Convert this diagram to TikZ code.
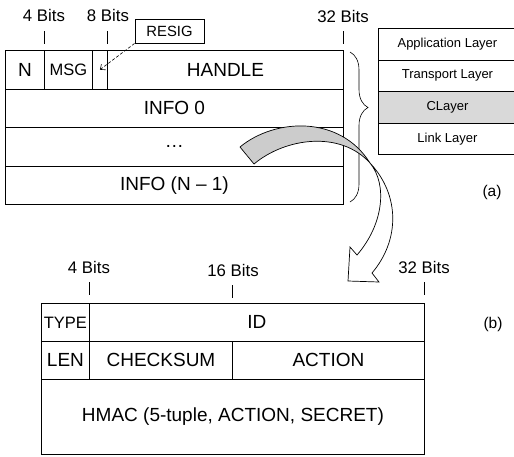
\documentclass[tikz,border=0pt]{standalone}
\usepackage{fontspec}
\setmainfont{Liberation Sans}
\usetikzlibrary{decorations.pathreplacing, arrows.meta}
\tikzset{
  field/.style={draw, anchor=north west, inner sep=0pt, font=\fontsize{19}{22}\selectfont},
  narrow/.style={font=\fontsize{16.5}{19}\selectfont},
  layer/.style={draw, anchor=north west, inner sep=0pt, minimum width=138pt,
    minimum height=31.5pt, font=\fontsize{13}{15}\selectfont},
  bits/.style={font=\fontsize{16.8}{20}\selectfont},
  tag/.style={font=\fontsize{15.5}{18}\selectfont}
}
\begin{document}
\begin{tikzpicture}[x=1pt, y=-1pt, line width=0.9pt]
\useasboundingbox (0,0) rectangle (514,456);

% packet (a)
\node[field, minimum width=39pt, minimum height=38.5pt] (n) at (5,50) {N};
\node[field, narrow, minimum width=48pt, minimum height=38.5pt] (msg) at (44,50) {MSG};
\node[field, minimum width=15pt, minimum height=38.5pt] (rs) at (92,50) {};
\node[field, minimum width=236pt, minimum height=38.5pt] (handle) at (107,50) {HANDLE};
\node[field, minimum width=338pt, minimum height=38.5pt] (info0) at (5,88.5) {INFO 0};
\node[field, minimum width=338pt, minimum height=38.5pt] (dots) at (5,127) {…};
\node[field, minimum width=338pt, minimum height=38.5pt] (infon) at (5,165.5) {INFO (N -- 1)};

\node[bits] (bitsa4) at (44,15) {4 Bits};
\node[bits] (bitsa8) at (108,15) {8 Bits};
\node[bits] (bitsa32) at (343,16) {32 Bits};

\node[draw, inner sep=0pt, minimum width=69pt, minimum height=24pt,
  font=\fontsize{14.8}{17}\selectfont] (resig) at (169.5,31) {RESIG};
\draw[-{Straight Barb[length=4pt, width=7pt]}, dash pattern=on 3pt off 2pt, line width=0.6pt]
  (resig.south west) -- (rs.center);

% protocol stack
\node[layer] (app) at (378,28) {Application Layer};
\node[layer] (trans) at (378,59.5) {Transport Layer};
\node[layer, fill=black!15] (clayer) at (378,91) {CLayer};
\node[layer] (link) at (378,122.5) {Link Layer};

\draw[line width=0.6pt, decorate, decoration={brace, amplitude=18pt, aspect=0.37}] (350,52) -- (350,202);

\node[tag] (taga) at (492,192) {(a)};

% packet (b)
\node[field, narrow, minimum width=48pt, minimum height=38pt] (type) at (41,303) {TYPE};
\node[field, minimum width=335pt, minimum height=38pt] (id) at (89,303) {ID};
\node[field, minimum width=48pt, minimum height=38pt] (len) at (41,341) {LEN};
\node[field, minimum width=143pt, minimum height=38pt] (checksum) at (89,341) {CHECKSUM};
\node[field, minimum width=192pt, minimum height=38pt] (action) at (232,341) {ACTION};
\node[field, minimum width=383pt, minimum height=75pt] (hmac) at (41,379) {HMAC (5-tuple, ACTION, SECRET)};

\node[bits] (bitsb4) at (89,267) {4 Bits};
\node[bits] (bitsb16) at (233,270) {16 Bits};
\node[bits] (bitsb32) at (424,267) {32 Bits};

\node[tag] (tagb) at (493,324) {(b)};

% bit marks
\foreach \x/\y in {44/31, 107/31, 343/31, 89/282, 232/285, 424/282}
\draw (\x,\y) -- ++(0,13);

% curved arrow
\filldraw[fill=black!20, line width=0.7pt] (240,147) .. controls (275,118) and (340,115) .. (370,163)
  .. controls (340,130) and (285,138) .. (254,164) -- cycle;
\filldraw[fill=white, line width=0.7pt] (370,163) .. controls (400,195) and (400,240) .. (372,273)
  -- (379,282) -- (348,281) -- (350,247) -- (357,255)
  .. controls (383,225) and (388,185) .. (370,163) -- cycle;
\end{tikzpicture}
\end{document}
